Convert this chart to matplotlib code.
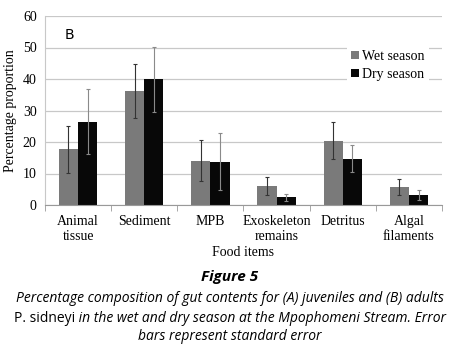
import matplotlib
matplotlib.use("Agg")
import matplotlib.pyplot as plt
import numpy as np
from matplotlib.font_manager import FontProperties

categories = ["Animal\ntissue", "Sediment", "MPB", "Exoskeleton\nremains", "Detritus", "Algal\nfilaments"]
wet = [17.7, 36.2, 14.1, 6.1, 20.4, 5.7]
wet_se = [7.4, 8.5, 6.5, 2.9, 5.8, 2.6]
dry = [26.4, 39.9, 13.7, 2.4, 14.7, 3.1]
dry_se = [10.3, 10.4, 9.0, 1.1, 4.2, 1.6]
yticks = [0, 10, 20, 30, 40, 50, 60]

fig = plt.figure(figsize=(4.6, 3.5), dpi=100)
ax = fig.add_axes([45/460, 1-205/350, (442-45)/460, (205-16)/350])

x = np.arange(len(categories))
w = 0.29
serif = "Liberation Serif"
ax.bar(x - w/2, wet, w, color="#7a7a7a", label="Wet season", zorder=2)
ax.bar(x + w/2, dry, w, color="#080808", label="Dry season", zorder=2)
ax.errorbar(x - w/2, wet, yerr=wet_se, fmt="none", ecolor="#333333", elinewidth=0.8, capsize=1.5, capthick=0.8, zorder=3)
ax.errorbar(x + w/2, dry, yerr=dry_se, fmt="none", ecolor="#8a8a8a", elinewidth=0.8, capsize=1.5, capthick=0.8, zorder=3)

ax.set_ylim(0, 60)
ax.set_xlim(-0.5, len(categories) - 0.5)
ax.set_yticks(yticks)
ax.set_yticklabels([str(v) for v in yticks], fontfamily=serif, fontsize=10)
ax.set_xticks(x)
ax.set_xticklabels(categories, fontfamily=serif, fontsize=10, linespacing=1.2)
ax.set_xticks(np.arange(-0.5, len(categories)), minor=True)
ax.tick_params(axis="x", which="major", length=0, pad=7)
ax.tick_params(axis="x", which="minor", length=4, color="#999999")
ax.tick_params(axis="y", length=0, pad=6)
ax.grid(axis="y", color="#c8c8c8", linewidth=0.9, zorder=0)
for s in ["top", "right"]:
    ax.spines[s].set_visible(False)
ax.spines["left"].set_color("#c8c8c8")
ax.spines["bottom"].set_color("#999999")
ax.set_xlabel("Food items", fontfamily=serif, fontsize=10, labelpad=2)
ax.set_ylabel("Percentage proportion", fontfamily=serif, fontsize=10, labelpad=4)
ax.text(0.05, 0.9, "B", transform=ax.transAxes, fontsize=10, fontfamily="DejaVu Sans", va="center")

leg = ax.legend(loc="upper right", bbox_to_anchor=(0.985, 0.88), frameon=True, fancybox=False,
                edgecolor="none", framealpha=1, prop={"family": serif, "size": 10},
                handlelength=0.55, handleheight=0.55, handletextpad=0.25, labelspacing=0.35, borderpad=0.3)

fig.text(0.5, 1-277/350, "Figure 5", ha="center", va="center", fontsize=11, fontweight="bold",
         fontstyle="italic", fontfamily="Open Sans")
cap_kw = dict(ha="center", va="center", fontsize=10, fontfamily="Open Sans")
fig.text(0.5, 1-298/350, "Percentage composition of gut contents for (A) juveniles and (B) adults",
         fontstyle="italic", **cap_kw)
t1 = "P. sidneyi"
t2 = " in the wet and dry season at the Mpophomeni Stream. Error"
fp_n = FontProperties(family="Open Sans", size=10)
fp_i = FontProperties(family="Open Sans", size=10, style="italic")
r = fig.canvas.get_renderer()
tmp1 = fig.text(0, 0, t1, fontproperties=fp_n)
tmp2 = fig.text(0, 0, t2, fontproperties=fp_i)
w1 = tmp1.get_window_extent(r).width
w2 = tmp2.get_window_extent(r).width
tmp1.remove(); tmp2.remove()
x0 = (460 - (w1 + w2)) / 2
fig.text(x0/460, 1-318/350, t1, fontproperties=fp_n, va="center", ha="left")
fig.text((x0 + w1)/460, 1-318/350, t2, fontproperties=fp_i, va="center", ha="left")
fig.text(0.5, 1-337/350, "bars represent standard error", fontstyle="italic", **cap_kw)

fig.savefig("out.png", dpi=100)
